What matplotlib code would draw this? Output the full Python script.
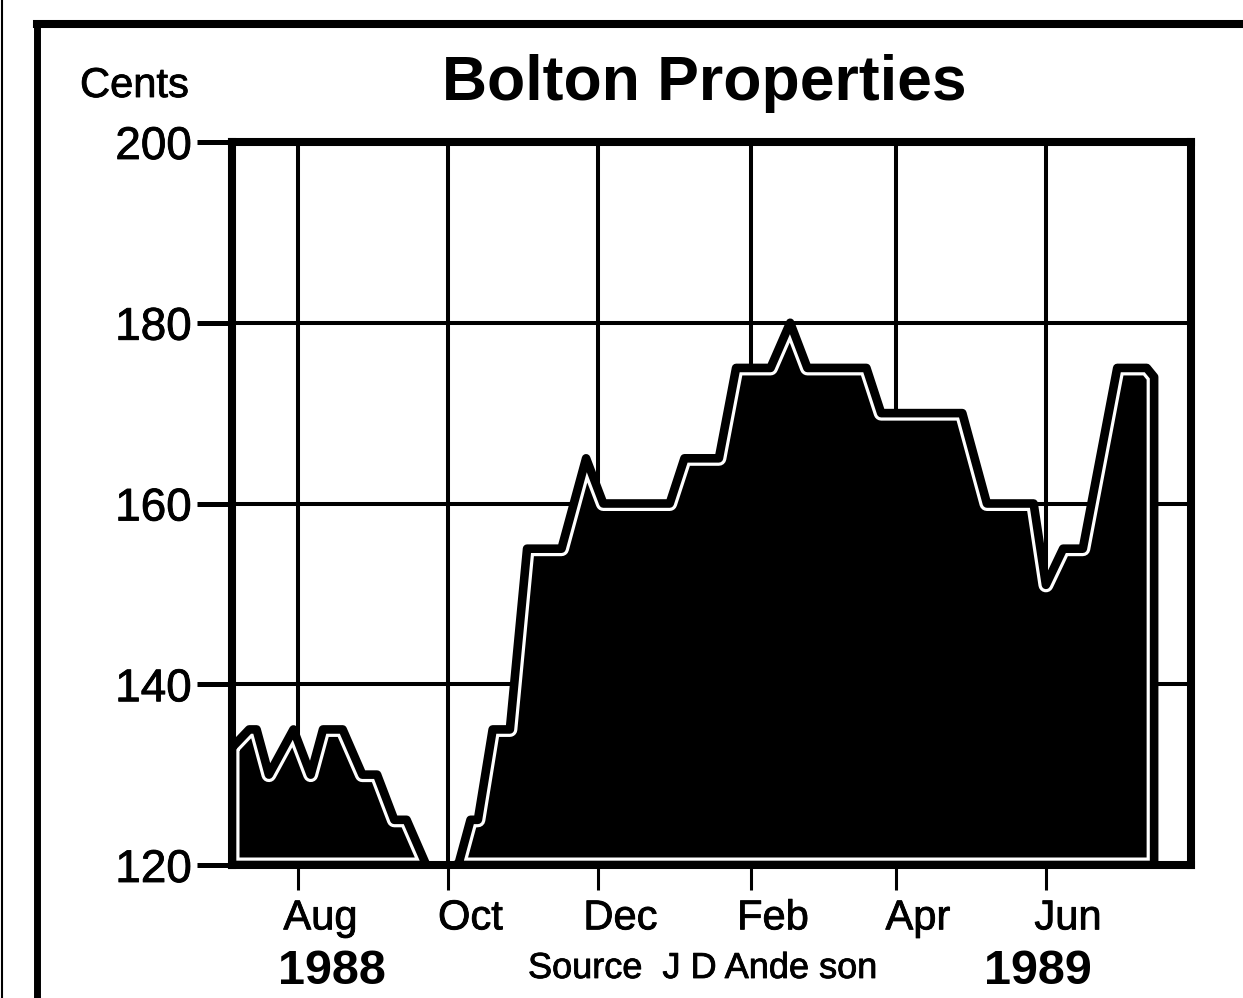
import matplotlib
matplotlib.use('Agg')
import matplotlib.pyplot as plt
import matplotlib.dates as mdates
import matplotlib.transforms as mtrans
import matplotlib.patheffects as pe
from matplotlib.patches import Polygon
import pandas as pd

plt.rcParams['font.family'] = ['Liberation Sans', 'DejaVu Sans']

# share price in cents
dates_1988 = ['1988-07-05', '1988-07-12', '1988-07-15', '1988-07-20', '1988-07-30',
              '1988-08-06', '1988-08-11', '1988-08-19', '1988-08-27', '1988-09-02',
              '1988-09-09', '1988-09-14', '1988-09-22']
prices_1988 = [133, 135, 135, 130, 135, 130, 135, 135, 130, 130, 125, 125, 120]

dates_late = ['1988-10-05', '1988-10-10', '1988-10-13', '1988-10-19', '1988-10-26',
              '1988-11-02', '1988-11-16', '1988-11-26', '1988-12-03', '1988-12-30',
              '1989-01-05', '1989-01-19', '1989-01-26', '1989-02-09', '1989-02-17',
              '1989-02-24', '1989-03-20', '1989-03-26', '1989-04-28', '1989-05-08',
              '1989-05-27', '1989-06-01', '1989-06-08', '1989-06-16', '1989-06-30',
              '1989-07-12', '1989-07-15']
prices_late = [120, 125, 125, 135, 135, 155, 155, 165, 160, 160, 165, 165, 175, 175, 180,
               175, 175, 170, 170, 160, 160, 151, 155, 155, 175, 175, 174]

month_ticks = ['1988-08-01', '1988-10-01', '1988-12-01', '1989-02-01', '1989-04-01', '1989-06-01']
month_labels = ['Aug', 'Oct', 'Dec', 'Feb', 'Apr', 'Jun']
cent_ticks = [120, 140, 160, 180, 200]

W, H = 1243, 998
fig = plt.figure(figsize=(W / 100, H / 100), dpi=100)
fig.patch.set_facecolor('white')

def px(x, y):
    return x / W, 1 - y / H

ink = [pe.withStroke(linewidth=0.6, foreground='black')]  # slightly heavier print look

ax = fig.add_axes([232 / W, 1 - 865 / H, (1191 - 232) / W, (865 - 142) / H])
ax.set_xlim(mdates.date2num(pd.Timestamp('1988-07-05')), mdates.date2num(pd.Timestamp('1989-07-30')))
ax.set_ylim(120, 200)

base = 120
for dts, vals in [(dates_1988, prices_1988), (dates_late, prices_late)]:
    xs = mdates.date2num(pd.to_datetime(dts))
    verts = list(zip(xs, vals)) + [(xs[-1], base), (xs[0], base)]
    poly = Polygon(verts, closed=True, facecolor='black', edgecolor='none', zorder=2)
    ax.add_patch(poly)
    ox = [v[0] for v in verts] + [verts[0][0]]
    oy = [v[1] for v in verts] + [verts[0][1]]
    # white inner line, then black outline -> the engraved look of the original
    wl, = ax.plot(ox, oy, color='white', lw=10.8, solid_joinstyle='round', zorder=2.1)
    wl.set_clip_path(poly)
    ax.plot(ox, oy, color='black', lw=6.2, solid_joinstyle='round', zorder=2.2)

# grid
ax.set_axisbelow(True)
ax.set_xticks(mdates.date2num(pd.to_datetime(month_ticks)))
ax.set_xticklabels(month_labels, fontsize=30)
ax.set_yticks(cent_ticks)
ax.set_yticklabels([str(c) for c in cent_ticks], fontsize=33)
ax.grid(True, color='black', lw=2.9)

ax.tick_params(axis='x', direction='out', length=18, width=2.2, pad=6, colors='black')
ax.tick_params(axis='y', direction='out', length=25, width=3.6, pad=4, colors='black')
shift = mtrans.ScaledTranslation(0.22, 0, fig.dpi_scale_trans)
for lab in ax.get_xticklabels():
    lab.set_transform(lab.get_transform() + shift)
    lab.set_path_effects(ink)
for lab in ax.get_yticklabels():
    lab.set_path_effects(ink)

for sp in ax.spines.values():
    sp.set_linewidth(5.8)
    sp.set_color('black')

# texts
fig.text(*px(80, 97), 'Cents', fontsize=30, va='baseline', ha='left', path_effects=ink)
fig.text(*px(704, 100), 'Bolton Properties', fontsize=45, fontweight='bold', va='baseline', ha='center')
fig.text(*px(332, 984), '1988', fontsize=35, fontweight='bold', va='baseline', ha='center')
fig.text(*px(1038, 984), '1989', fontsize=35, fontweight='bold', va='baseline', ha='center')
fig.text(*px(528, 978), 'Source  J D Ande son', fontsize=26, va='baseline', ha='left', path_effects=ink)

# outer box of the clipping
fig.add_artist(plt.Line2D([37 / W, 37 / W], [0, 1 - 24 / H], transform=fig.transFigure,
                          color='black', lw=5))
fig.add_artist(plt.Line2D([37 / W, 1], [1 - 24 / H, 1 - 24 / H], transform=fig.transFigure,
                          color='black', lw=5.8))
fig.add_artist(plt.Line2D([2 / W, 2 / W], [0, 1], transform=fig.transFigure,
                          color='black', lw=1.5))

fig.savefig('out.png', dpi=100, facecolor='white')
